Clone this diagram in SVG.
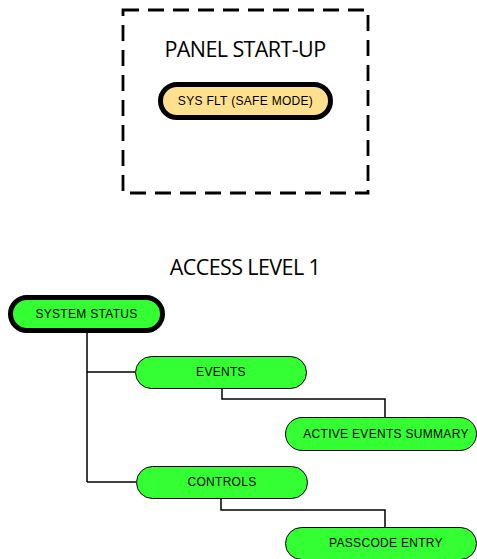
<svg xmlns="http://www.w3.org/2000/svg" width="477" height="559" viewBox="0 0 477 559">
<style>
.title{font-family:"Open Sans","Liberation Sans",sans-serif;font-size:21.5px;fill:#000;text-anchor:middle;letter-spacing:-0.6px}
.lbl{font-family:"Liberation Sans",Arial,sans-serif;font-size:12px;fill:#000;text-anchor:middle;letter-spacing:0.3px}
.pill{fill:#33FF33;stroke:#000;stroke-width:1}
.thick{stroke-width:5}
.conn{fill:none;stroke:#000;stroke-width:1.5}
</style>
<rect x="123" y="10" width="245" height="183" fill="none" stroke="#000" stroke-width="2.8" stroke-dasharray="16,9"/>
<text class="title" x="245" y="57">PANEL START-UP</text>
<text class="title" x="245" y="275">ACCESS LEVEL 1</text>
<g id="connectors">
<path class="conn" d="M87,333 V482 M87,372 H135 M87,482 H136"/>
<path class="conn" d="M222,388 V399 H385 V417"/>
<path class="conn" d="M221,499 V510 H385 V527"/>
</g>
<g id="sysflt">
<rect x="160.5" y="84.5" width="170" height="33" rx="16.5" fill="#FFE08F" stroke="#000" stroke-width="5"/>
<text class="lbl" x="245.5" y="105">SYS FLT (SAFE MODE)</text>
</g>
<g id="systemstatus">
<rect class="pill thick" x="10.5" y="297.5" width="152" height="33" rx="16.5"/>
<text class="lbl" x="86.5" y="318">SYSTEM STATUS</text>
</g>
<g id="events">
<rect class="pill" x="135.5" y="356.5" width="171" height="32" rx="16"/>
<text class="lbl" x="221" y="376">EVENTS</text>
</g>
<g id="activeevents">
<rect class="pill" x="285.5" y="417.5" width="191" height="33" rx="16.5"/>
<text class="lbl" x="386" y="438">ACTIVE EVENTS SUMMARY</text>
</g>
<g id="controls">
<rect class="pill" x="136.5" y="466.5" width="171" height="32" rx="16"/>
<text class="lbl" x="222" y="486">CONTROLS</text>
</g>
<g id="passcode">
<rect class="pill" x="285.5" y="527.5" width="191" height="32" rx="16"/>
<text class="lbl" x="386" y="547">PASSCODE ENTRY</text>
</g>
</svg>
